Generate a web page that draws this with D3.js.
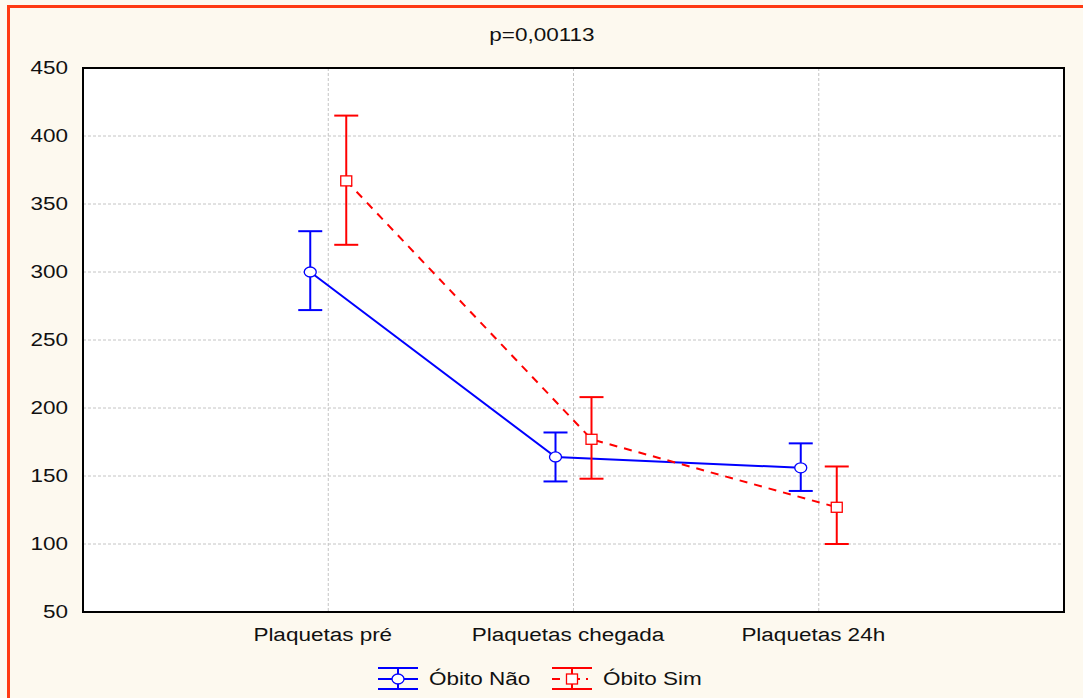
<!DOCTYPE html>
<html>
<head>
<meta charset="utf-8">
<script src="https://cdn.jsdelivr.net/npm/d3@7"></script>
<style>
  html, body { margin: 0; padding: 0; background: #fdf9ef; }
  svg { display: block; font-family: "Liberation Sans", Arial, sans-serif; }
</style>
</head>
<body>
<svg id="chart" width="1083" height="698"></svg>
<script>
// Platelet counts by time point, grouped by outcome (mean with confidence interval)
const categories = ["Plaquetas pré", "Plaquetas chegada", "Plaquetas 24h"];
const seriesNames = ["Óbito Não", "Óbito Sim"];
const naoMean = [300, 164, 156];
const naoLow  = [272, 146, 139];
const naoHigh = [330, 182, 174];
const simMean = [367, 177, 127];
const simLow  = [320, 148, 100];
const simHigh = [415, 208, 157];
const yTicks = [50, 100, 150, 200, 250, 300, 350, 400, 450];
const title = "p=0,00113";

const svg = d3.select("#chart");
const W = 1083, H = 698;
const margin = { left: 83, top: 68, right: 1083 - 1064, bottom: 698 - 612 };
const pw = W - margin.left - margin.right;
const ph = H - margin.top - margin.bottom;

// text is drawn in a wide face: horizontally stretched Liberation Sans
const FS = 18, SX = 1.25;
function wide(sel, x) {
  sel.attr("font-size", FS).attr("fill", "#111")
    .attr("font-family", "Liberation Sans, Arial, sans-serif")
    .attr("transform", `scale(${SX},1)`);
  if (x !== undefined) sel.attr("x", x / SX);
  return sel;
}

// outer frame
svg.append("rect").attr("x", 8.5).attr("y", 6.5).attr("width", 1200).attr("height", 800)
  .attr("fill", "#fdf9ef").attr("stroke", "#ff3a12").attr("stroke-width", 3);

const g = svg.append("g").attr("transform", `translate(${margin.left},${margin.top})`);

const x = d3.scalePoint().domain(["", ...categories, " "]).range([0, pw]);
const y = d3.scaleLinear().domain([50, 450]).range([ph, 0]);

g.append("rect").attr("width", pw).attr("height", ph).attr("fill", "#fff");

// grid
g.append("g").selectAll("line").data(yTicks.slice(1, -1)).join("line")
  .attr("x1", 0).attr("x2", pw).attr("y1", d => y(d)).attr("y2", d => y(d))
  .attr("stroke", "#c4c4c4").attr("stroke-dasharray", "3,2").attr("stroke-width", 1);
g.append("g").selectAll("line").data(categories).join("line")
  .attr("x1", d => x(d)).attr("x2", d => x(d)).attr("y1", 0).attr("y2", ph)
  .attr("stroke", "#c4c4c4").attr("stroke-dasharray", "3,2").attr("stroke-width", 1);

// axes
const yAxis = g.append("g").call(d3.axisLeft(y).tickValues(yTicks).tickSize(0).tickPadding(15));
yAxis.select(".domain").remove();
wide(yAxis.selectAll("text"), -15);

const xAxis = g.append("g").attr("transform", `translate(0,${ph})`)
  .call(d3.axisBottom(x).tickValues(categories).tickSize(0).tickPadding(16));
xAxis.select(".domain").remove();
wide(xAxis.selectAll("text"), -6);

g.append("rect").attr("width", pw).attr("height", ph).attr("fill", "none")
  .attr("stroke", "#000").attr("stroke-width", 2);

// series
const series = [
  { name: seriesNames[0], mean: naoMean, low: naoLow, high: naoHigh, color: "#0000ff", dx: -18, dash: null, shape: "circle" },
  { name: seriesNames[1], mean: simMean, low: simLow, high: simHigh, color: "#ff0000", dx: 18, dash: "8,7", shape: "square" }
];
const capW = 12;

series.forEach(s => {
  const pts = categories.map((c, i) => ({ x: x(c) + s.dx, m: s.mean[i], lo: s.low[i], hi: s.high[i] }));
  const sg = g.append("g");
  sg.append("path").datum(pts)
    .attr("d", d3.line().x(d => d.x).y(d => y(d.m)))
    .attr("fill", "none").attr("stroke", s.color).attr("stroke-width", 2)
    .attr("stroke-dasharray", s.dash);
  const eb = sg.selectAll("g.eb").data(pts).join("g").attr("class", "eb");
  eb.append("line").attr("x1", d => d.x).attr("x2", d => d.x).attr("y1", d => y(d.lo)).attr("y2", d => y(d.hi))
    .attr("stroke", s.color).attr("stroke-width", 2);
  eb.append("line").attr("x1", d => d.x - capW).attr("x2", d => d.x + capW).attr("y1", d => y(d.hi)).attr("y2", d => y(d.hi))
    .attr("stroke", s.color).attr("stroke-width", 2);
  eb.append("line").attr("x1", d => d.x - capW).attr("x2", d => d.x + capW).attr("y1", d => y(d.lo)).attr("y2", d => y(d.lo))
    .attr("stroke", s.color).attr("stroke-width", 2);
  if (s.shape === "circle") {
    eb.append("ellipse").attr("cx", d => d.x).attr("cy", d => y(d.m)).attr("rx", 6).attr("ry", 5)
      .attr("fill", "#fff").attr("stroke", s.color).attr("stroke-width", 1.3);
  } else {
    eb.append("rect").attr("x", d => d.x - 5.5).attr("y", d => y(d.m) - 5).attr("width", 11).attr("height", 10)
      .attr("fill", "#fff").attr("stroke", s.color).attr("stroke-width", 1.3);
  }
});

// title
wide(svg.append("text").attr("y", 41).attr("text-anchor", "middle").text(title), 542);

// legend
const legendItems = [
  { s: series[0], x0: 378, tx: 429 },
  { s: series[1], x0: 552, tx: 603 }
];
legendItems.forEach(({ s, x0, tx }) => {
  const lg = svg.append("g");
  const cy = 679, cx = x0 + 20;
  lg.append("line").attr("x1", x0).attr("x2", x0 + 40).attr("y1", 668).attr("y2", 668).attr("stroke", s.color).attr("stroke-width", 2);
  lg.append("line").attr("x1", x0).attr("x2", x0 + 40).attr("y1", 689).attr("y2", 689).attr("stroke", s.color).attr("stroke-width", 2);
  lg.append("line").attr("x1", cx).attr("x2", cx).attr("y1", 668).attr("y2", 689).attr("stroke", s.color).attr("stroke-width", 2);
  lg.append("line").attr("x1", x0).attr("x2", x0 + 40).attr("y1", cy).attr("y2", cy).attr("stroke", s.color).attr("stroke-width", 2)
    .attr("stroke-dasharray", s.dash ? "8,14,6,6,2,4" : null);
  if (s.shape === "circle") {
    lg.append("ellipse").attr("cx", cx).attr("cy", cy).attr("rx", 6).attr("ry", 5).attr("fill", "#fff").attr("stroke", s.color).attr("stroke-width", 1.3);
  } else {
    lg.append("rect").attr("x", cx - 5.5).attr("y", cy - 5).attr("width", 11).attr("height", 10).attr("fill", "#fff").attr("stroke", s.color).attr("stroke-width", 1.3);
  }
  wide(lg.append("text").attr("y", cy + 6.5).text(s.name), tx);
});
</script>
</body>
</html>
